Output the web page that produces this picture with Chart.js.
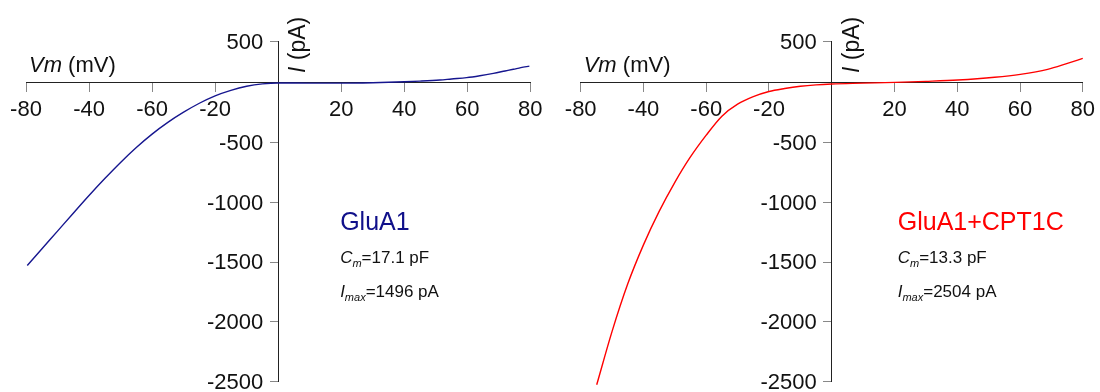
<!DOCTYPE html>
<html>
<head>
<meta charset="utf-8">
<script src="https://cdn.jsdelivr.net/npm/chart.js@4.4.0/dist/chart.umd.min.js"></script>
<style>
  body { margin: 0; background: #fff; }
  #wrap { position: relative; width: 1100px; height: 392px; }
  .panel { position: absolute; top: 0; width: 550px; height: 392px; }
</style>
</head>
<body>
<div id="wrap">
  <div class="panel" style="left:0"><canvas id="left" width="550" height="392"></canvas></div>
  <div class="panel" style="left:550px"><canvas id="right" width="550" height="392"></canvas></div>
</div>
<script>
// GluA1 I-V curve (mV, pA)
const glua1V = [-79.6, -75, -70, -65, -60, -55, -50, -45, -40, -35, -30, -25, -20, -15, -10, -5, 0, 10, 20, 30, 40, 45, 51.3, 55, 59.8, 64, 68.3, 72, 74.6, 77, 79.7];
const glua1I = [-1528, -1390, -1240, -1090, -942, -800, -665, -540, -428, -330, -245, -170, -108, -62, -28, -8, 0, -2, -2, 2, 10, 15, 24, 33, 44, 60, 80, 100, 114, 128, 141];

// GluA1+CPT1C I-V curve
const cptV = [-74.9, -70, -65, -60, -55, -50, -45.3, -40, -35, -30, -25, -20, -15, -10, -5, 0, 10, 20.2, 30, 40.2, 51.9, 60.1, 68.8, 75.1, 80];
const cptI = [-2526, -2079, -1681, -1355, -1075, -832, -630, -437, -278, -178, -115, -72, -47, -28, -16, -9, -2, 5, 13, 24, 47, 72, 114, 164, 205];

const xTickValues = [-80, -60, -40, -20, 20, 40, 60, 80];
const xTickLabels = ['-80', '-40', '-60', '-20', '20', '40', '60', '80'];
const yTickValues = [-2500, -2000, -1500, -1000, -500, 345];
const yTickLabels = ['-2500', '-2000', '-1500', '-1000', '-500', '500'];

const FONT = "'Liberation Sans', Arial, Helvetica, sans-serif";

function rich(ctx, parts, x, y) {
  for (const p of parts) {
    ctx.font = (p.i ? 'italic ' : '') + p.s + 'px ' + FONT;
    ctx.fillText(p.t, x, y + (p.dy || 0));
    x += ctx.measureText(p.t).width;
  }
}

const overlay = {
  id: 'overlay',
  afterDraw(chart, args, opts) {
    const ctx = chart.ctx;
    const ys = chart.scales.y;
    const x0 = chart.scales.x.getPixelForValue(0);
    const y0 = ys.getPixelForValue(0);
    ctx.save();
    ctx.fillStyle = '#111';

    // y tick labels, right aligned left of the tick marks
    ctx.font = '22px ' + FONT;
    ctx.textAlign = 'right';
    ctx.textBaseline = 'middle';
    yTickValues.forEach((v, i) => {
      ctx.fillText(yTickLabels[i], x0 - 15, ys.getPixelForValue(v) + 1);
    });

    ctx.textAlign = 'left';
    ctx.textBaseline = 'alphabetic';
    rich(ctx, [{t: 'Vm', i: true, s: 22}, {t: ' (mV)', s: 22}], chart.chartArea.left + 3, y0 - 11);

    ctx.save();
    ctx.translate(x0 + 27, 73);
    ctx.rotate(-Math.PI / 2);
    rich(ctx, [{t: 'I', i: true, s: 23}, {t: ' (pA)', s: 23}], 0, 0);
    ctx.restore();

    const tx = x0 + opts.dx;
    ctx.fillStyle = opts.color;
    rich(ctx, [{t: opts.name, s: 25}], tx, y0 + 147);
    ctx.fillStyle = '#111';
    rich(ctx, [{t: 'C', i: true, s: 17}, {t: 'm', i: true, s: 11, dy: 4}, {t: '=' + opts.cm, s: 17}], tx, y0 + 180);
    rich(ctx, [{t: 'I', i: true, s: 17}, {t: 'max', i: true, s: 11, dy: 4}, {t: '=' + opts.imax, s: 17}], tx, y0 + 214);
    ctx.restore();
  }
};

function makeChart(id, V, I, color, pad, note) {
  return new Chart(document.getElementById(id), {
    type: 'scatter',
    data: {
      datasets: [{
        data: V.map((v, k) => ({x: v, y: I[k]})),
        showLine: true,
        borderColor: color,
        borderWidth: 1.4,
        pointRadius: 0,
        cubicInterpolationMode: 'monotone',
        clip: false
      }]
    },
    options: {
      responsive: false,
      animation: false,
      layout: {padding: pad},
      plugins: {legend: {display: false}, tooltip: {enabled: false}, overlay: note},
      scales: {
        x: {
          type: 'linear', min: -80, max: 80, position: {y: 0},
          afterBuildTicks: (s) => { s.ticks = xTickValues.map((v) => ({value: v})); },
          ticks: {
            callback: (v, i) => xTickLabels[i],
            font: {size: 22, family: FONT}, color: '#111', padding: 5,
            maxRotation: 0, autoSkip: false
          },
          grid: {drawOnChartArea: false, drawTicks: true, tickLength: 9, tickColor: '#888'},
          border: {display: true, color: '#222', width: 1}
        },
        y: {
          type: 'linear', min: -2500, max: 345, position: {x: 0},
          afterBuildTicks: (s) => { s.ticks = yTickValues.map((v) => ({value: v})); },
          ticks: {display: false},
          grid: {drawOnChartArea: false, drawTicks: true, tickLength: 8, tickColor: '#888'},
          border: {display: true, color: '#222', width: 1}
        }
      }
    },
    plugins: [overlay]
  });
}

makeChart('left', glua1V, glua1I, '#16168f', {left: 26, right: 19.7, top: 41.7, bottom: 10.3},
  {dx: 62, color: '#10108a', name: 'GluA1', cm: '17.1 pF', imax: '1496 pA'});
makeChart('right', cptV, cptI, '#ff0000', {left: 30.7, right: 14.7, top: 41.7, bottom: 10.3},
  {dx: 66, color: '#ff0000', name: 'GluA1+CPT1C', cm: '13.3 pF', imax: '2504 pA'});
</script>
</body>
</html>
